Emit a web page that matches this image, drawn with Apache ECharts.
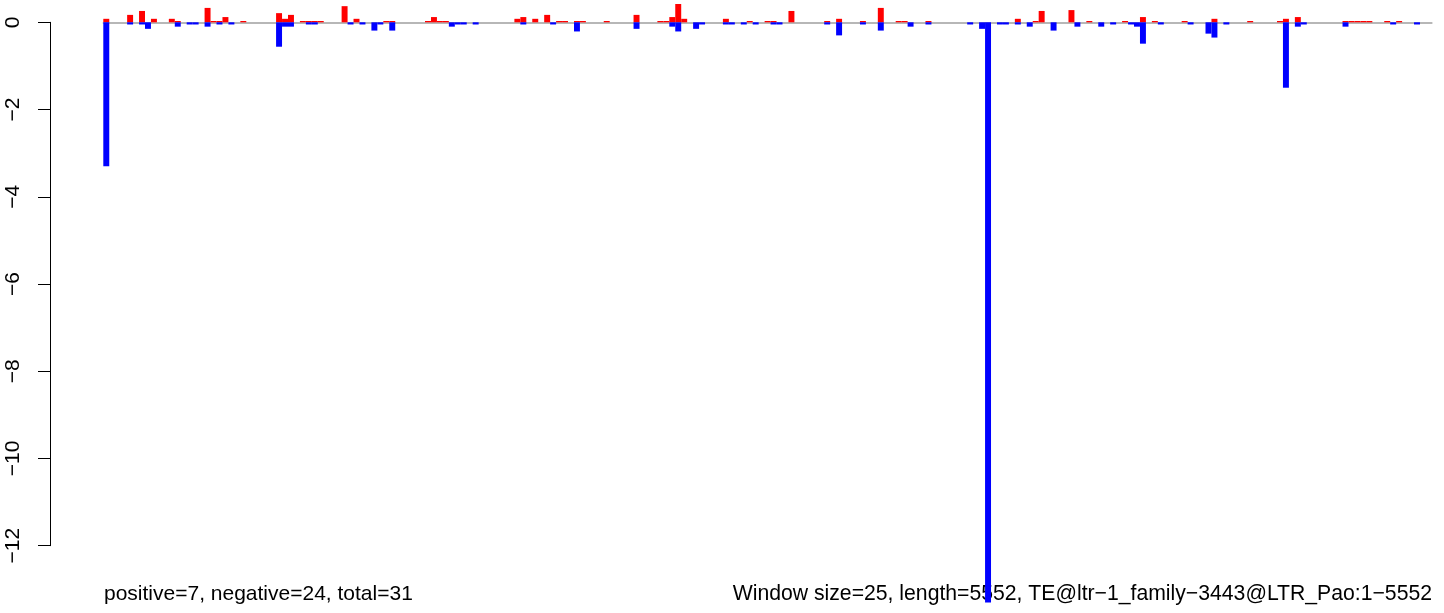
<!DOCTYPE html>
<html>
<head>
<meta charset="utf-8">
<script src="https://cdn.jsdelivr.net/npm/echarts@6.0.0/dist/echarts.min.js"></script>
<style>
html,body{margin:0;padding:0;background:#fff;}
#chart{width:1444px;height:613px;}
</style>
</head>
<body>
<div id="chart"></div>
<script>
// Window index (window size 25 over length 5552 -> 223 windows)
var windows = [];
for (var i = 1; i <= 223; i++) { windows.push(i); }

// Positive (red) values per window
var positive = [
  0.08,0,0,0,0.17,0,0.26,0,0.08,0,
  0,0.08,0.03,0,0,0,0,0.33,0.03,0.03,
  0.12,0,0,0.03,0,0,0,0,0,0.21,
  0.08,0.17,0,0.03,0.03,0.03,0.03,0,0,0,
  0.37,0,0.08,0,0,0,0,0.03,0.03,0,
  0,0,0,0,0.03,0.12,0.03,0.03,0,0,
  0,0,0,0,0,0,0,0,0,0.08,
  0.12,0,0.08,0,0.17,0,0.03,0.03,0,0.03,
  0.03,0,0,0,0.03,0,0,0,0,0.17,
  0,0,0,0.03,0.03,0.12,0.42,0.08,0,0,
  0,0,0,0,0.08,0,0,0,0.03,0,
  0,0.03,0.03,0,0,0.26,0,0,0,0,
  0,0.03,0,0.08,0,0,0,0.03,0,0,
  0.33,0,0,0.03,0.03,0,0,0,0.03,0,
  0,0,0,0,0,0,0,0,0,0,
  0,0,0,0.08,0,0,0.03,0.26,0,0,
  0,0,0.28,0,0,0.03,0,0,0,0,
  0,0.03,0,0,0.12,0,0.03,0,0,0,
  0,0.03,0,0,0,0,0.08,0,0,0,
  0,0,0.03,0,0,0,0,0.03,0.08,0,
  0.12,0,0,0,0,0,0,0,0.03,0.03,
  0.03,0.03,0.03,0,0,0.03,0,0.03,0,0,
  0,0,0
];

// Negative (blue) values per window
var negative = [
  -3.3,0,0,0,-0.05,0,-0.05,-0.15,0,0,
  0,0,-0.1,0,-0.05,-0.05,0,-0.1,0,-0.05,
  0,-0.05,0,0,0,0,0,0,0,-0.56,
  -0.1,-0.1,0,0,-0.05,-0.05,0,0,0,0,
  0,-0.05,0,-0.05,0,-0.19,-0.05,0,-0.19,0,
  0,0,0,0,0,0,0,0,-0.1,-0.05,
  -0.05,0,-0.05,0,0,0,0,0,0,0,
  -0.05,0,0,0,0,-0.05,0,0,0,-0.21,
  0,0,0,0,0,0,0,0,0,-0.15,
  0,0,0,0,0,-0.1,-0.21,0,0,-0.15,
  -0.05,0,0,0,-0.05,-0.05,0,-0.05,0,-0.05,
  0,0,-0.05,-0.05,0,0,0,0,0,0,
  0,-0.05,0,-0.3,0,0,0,-0.05,0,0,
  -0.19,0,0,0,0,-0.1,0,0,-0.05,0,
  0,0,0,0,0,-0.05,0,-0.15,-13.3,0,
  -0.05,-0.05,0,-0.05,0,-0.1,0,0,0,-0.19,
  0,0,0,-0.1,0,0,0,-0.1,0,-0.05,
  0,0,-0.05,-0.1,-0.49,0,0,-0.05,0,0,
  0,0,-0.05,0,0,-0.26,-0.35,0,-0.05,0,
  0,0,0,0,0,0,0,0,-1.5,0,
  -0.1,-0.05,0,0,0,0,0,0,-0.1,0,
  0,0,0,0,0,0,-0.05,0,0,0,
  -0.05,0,0
];

// Y axis tick values
var yTicks = [0, -2, -4, -6, -8, -10, -12];

var leftNote = 'positive=7, negative=24, total=31';
var rightNote = 'Window size=25, length=5552, TE@ltr\u22121_family\u22123443@LTR_Pao:1\u22125552';

var chart = echarts.init(document.getElementById('chart'), null, {renderer: 'canvas'});
var FONT = 'Liberation Sans, Arial, Helvetica, sans-serif';

var option = {
  animation: false,
  backgroundColor: '#ffffff',
  grid: { left: 103.3, right: 12.1, top: 22.3, bottom: 67.3, containLabel: false },
  xAxis: {
    type: 'category',
    data: windows,
    boundaryGap: true,
    axisLine: { show: true, onZero: true, lineStyle: { color: '#a0a0a0', width: 1.5 } },
    axisTick: { show: false },
    axisLabel: { show: false },
    splitLine: { show: false }
  },
  yAxis: {
    type: 'value',
    min: yTicks[yTicks.length - 1],
    max: yTicks[0],
    interval: 2,
    offset: 53.3,
    axisLine: { show: true, lineStyle: { color: '#000', width: 1 } },
    axisTick: { show: true, length: 12, lineStyle: { color: '#000', width: 1 } },
    axisLabel: {
      rotate: 90,
      margin: 26,
      fontSize: 21,
      fontFamily: FONT,
      color: '#000',
      formatter: function (v) { return v < 0 ? '\u2212' + (-v) : String(v); }
    },
    splitLine: { show: false }
  },
  series: [
    {
      name: 'positive',
      type: 'bar',
      data: positive,
      itemStyle: { color: '#ff0000' },
      barGap: '-100%',
      barCategoryGap: '0%',
      clip: false,
      z: 3
    },
    {
      name: 'negative',
      type: 'bar',
      data: negative,
      itemStyle: { color: '#0000ff' },
      barGap: '-100%',
      barCategoryGap: '0%',
      clip: false,
      z: 3
    }
  ],
  graphic: [
    {
      type: 'text',
      x: 104, y: 594,
      style: { text: leftNote, fontSize: 21, fontFamily: FONT, fill: '#000', align: 'left', verticalAlign: 'middle' }
    },
    {
      type: 'text',
      x: 1432, y: 594,
      style: { text: rightNote, fontSize: 21.2, fontFamily: FONT, fill: '#000', align: 'right', verticalAlign: 'middle' }
    }
  ]
};
chart.setOption(option);
</script>
</body>
</html>
